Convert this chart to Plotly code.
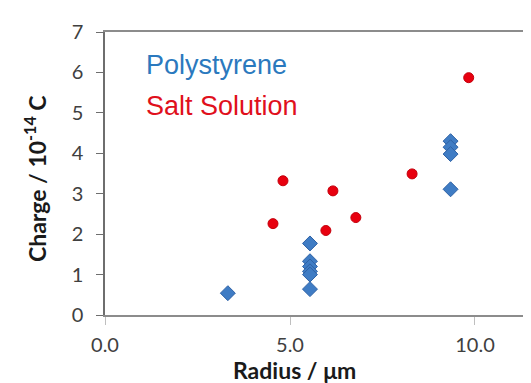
import plotly.graph_objects as go

# Data
poly_radius = [3.32, 5.54, 5.54, 5.54, 5.54, 5.54, 5.54, 9.34, 9.34, 9.34, 9.34]
poly_charge = [0.54, 1.77, 1.33, 1.20, 1.08, 1.00, 0.64, 4.30, 4.15, 3.98, 3.11]
salt_radius = [4.54, 4.81, 5.97, 6.16, 6.78, 8.30, 9.83]
salt_charge = [2.26, 3.32, 2.09, 3.07, 2.41, 3.49, 5.87]
x_ticks = [0, 5, 10]
x_tick_labels = ["0.0", "5.0", "10.0"]
y_ticks = [0, 1, 2, 3, 4, 5, 6, 7]

fig = go.Figure()
fig.add_trace(go.Scatter(
    x=poly_radius, y=poly_charge, mode="markers", name="Polystyrene",
    marker=dict(symbol="diamond", size=11.5, color="#3F7CC4",
                line=dict(color="#2E62A6", width=1)),
))
fig.add_trace(go.Scatter(
    x=salt_radius, y=salt_charge, mode="markers", name="Salt Solution",
    marker=dict(symbol="circle", size=10, color="#E8000F",
                line=dict(color="#C4000C", width=1)),
))

tickfont = dict(family="Lato, Open Sans, sans-serif", size=20, color="#404040")
titlefont = dict(family="Lato, Open Sans, sans-serif", size=23, color="#1A1A1A")

fig.update_layout(
    width=531, height=383,
    margin=dict(l=97, r=0, t=24, b=76),
    paper_bgcolor="white", plot_bgcolor="white",
    showlegend=False,
    xaxis=dict(
        range=[0, 11.73], tickvals=x_ticks, ticktext=x_tick_labels,
        showgrid=False, zeroline=False,
        showline=True, linecolor="#8C8C8C", linewidth=2, mirror=True,
        ticks="outside", ticklen=8, tickcolor="#BFBFBF", tickwidth=1,
        tickfont=tickfont, ticklabelstandoff=3,
    ),
    yaxis=dict(
        range=[0, 7], tickvals=y_ticks,
        showgrid=False, zeroline=False,
        showline=True, linecolor="#6E6E6E", linewidth=1.5,
        ticks="outside", ticklen=7, tickcolor="#6E6E6E", tickwidth=1,
        tickfont=tickfont, ticklabelstandoff=9,
    ),
    annotations=[
        dict(text="<b>Radius / \u03bcm</b>", xref="paper", yref="paper",
             x=(286 - 97) / 434, y=-55 / 283, xanchor="center", yanchor="middle",
             showarrow=False, font=titlefont),
        dict(text="<b>Charge / 10<sup>-14</sup> C</b>", xref="paper", yref="paper",
             x=(27 - 97) / 434, y=(307 - 171) / 283, xanchor="center", yanchor="middle",
             textangle=-90, showarrow=False, font=titlefont),
        dict(text="Polystyrene", xref="paper", yref="paper",
             x=(136 - 97) / 434, y=(307 - 57) / 283, xanchor="left", yanchor="middle",
             showarrow=False, font=dict(family="Liberation Sans, Arial, sans-serif", size=27, color="#2B79BE")),
        dict(text="Salt Solution", xref="paper", yref="paper",
             x=(136 - 97) / 434, y=(307 - 98) / 283, xanchor="left", yanchor="middle",
             showarrow=False, font=dict(family="Liberation Sans, Arial, sans-serif", size=27, color="#E0101C")),
    ],
)

fig.write_html("out.html")
